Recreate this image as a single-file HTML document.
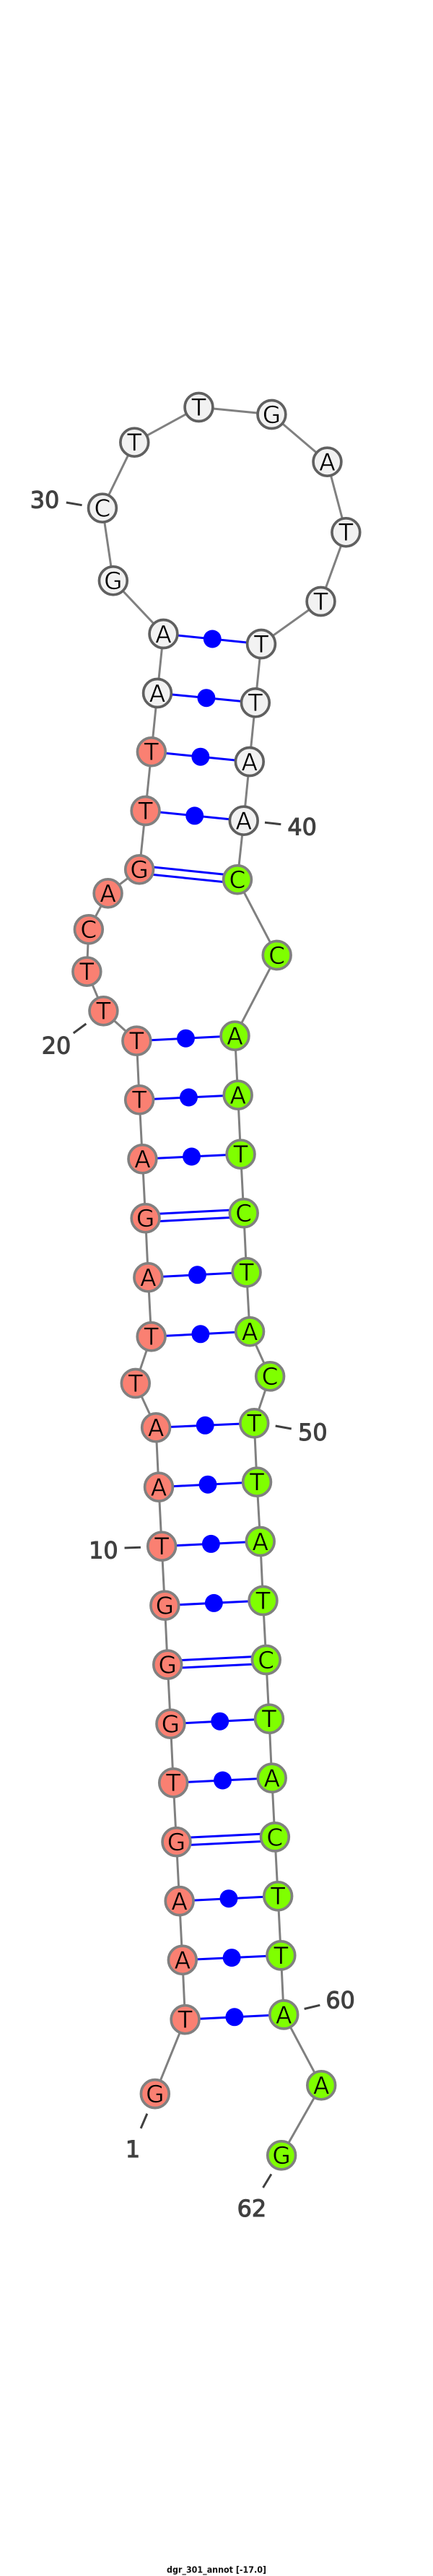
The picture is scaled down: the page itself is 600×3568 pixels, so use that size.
<!DOCTYPE html>
<html>
<head>
<meta charset="utf-8">
<style>
html,body{margin:0;padding:0;background:#fff;}
svg{display:block;}
.n text{font-family:"DejaVu Sans","Liberation Sans",sans-serif;font-size:33px;text-anchor:middle;fill:#000;stroke-width:.6;}
.n circle{r:19.5px;stroke-width:3.7;}
.r circle{fill:#fa8072;stroke:#808080;}
.r text{stroke:#fa8072;}
.g circle{fill:#7fff00;stroke:#808080;}
.g text{stroke:#7fff00;}
.w circle{fill:#f2f2f2;stroke:#606060;}
.w text{stroke:#f2f2f2;}
.l text{font-family:"DejaVu Sans","Liberation Sans",sans-serif;font-size:32px;fill:#404040;text-anchor:middle;stroke:#404040;stroke-width:1.1;}
.l line{stroke:#404040;stroke-width:3;}
.b line{stroke:#0000ff;stroke-width:3;}
.b circle{fill:#0000ff;}
</style>
</head>
<body>
<svg width="600" height="3568" viewBox="0 0 600 3568" xmlns="http://www.w3.org/2000/svg">
<rect width="600" height="3568" fill="#fff"/>
<g transform="scale(0.9945,1)">
<polyline fill="none" stroke="#808080" stroke-width="3" points="216,2900.1 258,2797.2 254.2,2714.8 250,2633.1 245.8,2551.2 241.5,2469.3 237.7,2387.7 233.5,2305.7 229.6,2223.7 225.4,2141.7 221.2,2059.7 217.3,1977.3 188.8,1916 210.8,1851.3 206.5,1769.3 202.7,1687.3 198.5,1605.3 194.2,1523.3 190.4,1441.7 144.2,1400.3 121,1345.7 123.5,1287.3 150.4,1237.3 194.2,1204.3 202.7,1123 211,1041.3 219.2,960 227.7,878 157.7,804.3 142.7,703.7 187.3,612.7 277,564 378.5,574 456,639.7 482,737.3 447,833 364,892 355.8,973.3 347.7,1055 339.6,1136.7 330.8,1218.3 385.8,1323 327.3,1434.7 331.5,1516.7 335.4,1598.7 339.6,1680.3 343.5,1762.3 348,1844.3 376.2,1906.3 354.2,1971.3 358,2052.7 362.7,2135 366.5,2217 370.8,2299 375,2380.7 378.8,2462.7 383,2544.4 387.3,2626.3 391.5,2708.4 395.4,2790.4 447.7,2888.3 392.3,2985.3"/>
<g class="b">
<line x1="258" y1="2797.2" x2="395.4" y2="2790.4"/><circle cx="326.7" cy="2793.8" r="12.5"/>
<line x1="254.2" y1="2714.8" x2="391.5" y2="2708.4"/><circle cx="322.9" cy="2711.6" r="12.5"/>
<line x1="250" y1="2633.1" x2="387.3" y2="2626.3"/><circle cx="318.7" cy="2629.7" r="12.5"/>
<line x1="245.8" y1="2546" x2="383" y2="2539.2"/><line x1="245.8" y1="2556.4" x2="383" y2="2549.6"/>
<line x1="241.5" y1="2469.3" x2="378.8" y2="2462.7"/><circle cx="310.2" cy="2466" r="12.5"/>
<line x1="237.7" y1="2387.7" x2="375" y2="2380.7"/><circle cx="306.4" cy="2384.2" r="12.5"/>
<line x1="233.5" y1="2300.5" x2="370.8" y2="2293.8"/><line x1="233.5" y1="2310.9" x2="370.8" y2="2304.2"/>
<line x1="229.6" y1="2223.7" x2="366.5" y2="2217"/><circle cx="298" cy="2220.4" r="12.5"/>
<line x1="225.4" y1="2141.7" x2="362.7" y2="2135"/><circle cx="294" cy="2138.4" r="12.5"/>
<line x1="221.2" y1="2059.7" x2="358" y2="2052.7"/><circle cx="289.6" cy="2056.2" r="12.5"/>
<line x1="217.3" y1="1977.3" x2="354.2" y2="1971.3"/><circle cx="285.8" cy="1974.3" r="12.5"/>
<line x1="210.8" y1="1851.3" x2="348" y2="1844.3"/><circle cx="279.4" cy="1847.8" r="12.5"/>
<line x1="206.5" y1="1769.3" x2="343.5" y2="1762.3"/><circle cx="275" cy="1765.8" r="12.5"/>
<line x1="202.7" y1="1682.1" x2="339.6" y2="1675.1"/><line x1="202.7" y1="1692.5" x2="339.6" y2="1685.5"/>
<line x1="198.5" y1="1605.3" x2="335.4" y2="1598.7"/><circle cx="267" cy="1602" r="12.5"/>
<line x1="194.2" y1="1523.3" x2="331.5" y2="1516.7"/><circle cx="262.9" cy="1520" r="12.5"/>
<line x1="190.4" y1="1441.7" x2="327.3" y2="1434.7"/><circle cx="258.9" cy="1438.2" r="12.5"/>
<line x1="194.7" y1="1199.1" x2="331.3" y2="1213.1"/><line x1="193.7" y1="1209.5" x2="330.3" y2="1223.5"/>
<line x1="202.7" y1="1123" x2="339.6" y2="1136.7"/><circle cx="271.2" cy="1129.9" r="12.5"/>
<line x1="211" y1="1041.3" x2="347.7" y2="1055"/><circle cx="279.4" cy="1048.2" r="12.5"/>
<line x1="219.2" y1="960" x2="355.8" y2="973.3"/><circle cx="287.5" cy="966.7" r="12.5"/>
<line x1="227.7" y1="878" x2="364" y2="892"/><circle cx="295.9" cy="885" r="12.5"/>
</g>
<g class="n">
<g class="r">
<circle cx="216" cy="2900.1" r="20"/><text x="216" y="2912">G</text>
<circle cx="258" cy="2797.2" r="20"/><text x="258" y="2809.1">T</text>
<circle cx="254.2" cy="2714.8" r="20"/><text x="254.2" y="2726.7">A</text>
<circle cx="250" cy="2633.1" r="20"/><text x="250" y="2645">A</text>
<circle cx="245.8" cy="2551.2" r="20"/><text x="245.8" y="2563.1">G</text>
<circle cx="241.5" cy="2469.3" r="20"/><text x="241.5" y="2481.2">T</text>
<circle cx="237.7" cy="2387.7" r="20"/><text x="237.7" y="2399.6">G</text>
<circle cx="233.5" cy="2305.7" r="20"/><text x="233.5" y="2317.6">G</text>
<circle cx="229.6" cy="2223.7" r="20"/><text x="229.6" y="2235.6">G</text>
<circle cx="225.4" cy="2141.7" r="20"/><text x="225.4" y="2153.6">T</text>
<circle cx="221.2" cy="2059.7" r="20"/><text x="221.2" y="2071.6">A</text>
<circle cx="217.3" cy="1977.3" r="20"/><text x="217.3" y="1989.2">A</text>
<circle cx="188.8" cy="1916" r="20"/><text x="188.8" y="1927.9">T</text>
<circle cx="210.8" cy="1851.3" r="20"/><text x="210.8" y="1863.2">T</text>
<circle cx="206.5" cy="1769.3" r="20"/><text x="206.5" y="1781.2">A</text>
<circle cx="202.7" cy="1687.3" r="20"/><text x="202.7" y="1699.2">G</text>
<circle cx="198.5" cy="1605.3" r="20"/><text x="198.5" y="1617.2">A</text>
<circle cx="194.2" cy="1523.3" r="20"/><text x="194.2" y="1535.2">T</text>
<circle cx="190.4" cy="1441.7" r="20"/><text x="190.4" y="1453.6">T</text>
<circle cx="144.2" cy="1400.3" r="20"/><text x="144.2" y="1412.2">T</text>
<circle cx="121" cy="1345.7" r="20"/><text x="121" y="1357.6">T</text>
<circle cx="123.5" cy="1287.3" r="20"/><text x="123.5" y="1299.2">C</text>
<circle cx="150.4" cy="1237.3" r="20"/><text x="150.4" y="1249.2">A</text>
<circle cx="194.2" cy="1204.3" r="20"/><text x="194.2" y="1216.2">G</text>
<circle cx="202.7" cy="1123" r="20"/><text x="202.7" y="1134.9">T</text>
<circle cx="211" cy="1041.3" r="20"/><text x="211" y="1053.2">T</text>
</g>
<g class="w">
<circle cx="219.2" cy="960" r="20"/><text x="219.2" y="971.9">A</text>
<circle cx="227.7" cy="878" r="20"/><text x="227.7" y="889.9">A</text>
<circle cx="157.7" cy="804.3" r="20"/><text x="157.7" y="816.2">G</text>
<circle cx="142.7" cy="703.7" r="20"/><text x="142.7" y="715.6">C</text>
<circle cx="187.3" cy="612.7" r="20"/><text x="187.3" y="624.6">T</text>
<circle cx="277" cy="564" r="20"/><text x="277" y="575.9">T</text>
<circle cx="378.5" cy="574" r="20"/><text x="378.5" y="585.9">G</text>
<circle cx="456" cy="639.7" r="20"/><text x="456" y="651.6">A</text>
<circle cx="482" cy="737.3" r="20"/><text x="482" y="749.2">T</text>
<circle cx="447" cy="833" r="20"/><text x="447" y="844.9">T</text>
<circle cx="364" cy="892" r="20"/><text x="364" y="903.9">T</text>
<circle cx="355.8" cy="973.3" r="20"/><text x="355.8" y="985.2">T</text>
<circle cx="347.7" cy="1055" r="20"/><text x="347.7" y="1066.9">A</text>
<circle cx="339.6" cy="1136.7" r="20"/><text x="339.6" y="1148.6">A</text>
</g>
<g class="g">
<circle cx="330.8" cy="1218.3" r="20"/><text x="330.8" y="1230.2">C</text>
<circle cx="385.8" cy="1323" r="20"/><text x="385.8" y="1334.9">C</text>
<circle cx="327.3" cy="1434.7" r="20"/><text x="327.3" y="1446.6">A</text>
<circle cx="331.5" cy="1516.7" r="20"/><text x="331.5" y="1528.6">A</text>
<circle cx="335.4" cy="1598.7" r="20"/><text x="335.4" y="1610.6">T</text>
<circle cx="339.6" cy="1680.3" r="20"/><text x="339.6" y="1692.2">C</text>
<circle cx="343.5" cy="1762.3" r="20"/><text x="343.5" y="1774.2">T</text>
<circle cx="348" cy="1844.3" r="20"/><text x="348" y="1856.2">A</text>
<circle cx="376.2" cy="1906.3" r="20"/><text x="376.2" y="1918.2">C</text>
<circle cx="354.2" cy="1971.3" r="20"/><text x="354.2" y="1983.2">T</text>
<circle cx="358" cy="2052.7" r="20"/><text x="358" y="2064.6">T</text>
<circle cx="362.7" cy="2135" r="20"/><text x="362.7" y="2146.9">A</text>
<circle cx="366.5" cy="2217" r="20"/><text x="366.5" y="2228.9">T</text>
<circle cx="370.8" cy="2299" r="20"/><text x="370.8" y="2310.9">C</text>
<circle cx="375" cy="2380.7" r="20"/><text x="375" y="2392.6">T</text>
<circle cx="378.8" cy="2462.7" r="20"/><text x="378.8" y="2474.6">A</text>
<circle cx="383" cy="2544.4" r="20"/><text x="383" y="2556.3">C</text>
<circle cx="387.3" cy="2626.3" r="20"/><text x="387.3" y="2638.2">T</text>
<circle cx="391.5" cy="2708.4" r="20"/><text x="391.5" y="2720.3">T</text>
<circle cx="395.4" cy="2790.4" r="20"/><text x="395.4" y="2802.3">A</text>
<circle cx="447.7" cy="2888.3" r="20"/><text x="447.7" y="2900.2">A</text>
<circle cx="392.3" cy="2985.3" r="20"/><text x="392.3" y="2997.2">G</text>
</g>
</g>
<g class="l">
<line x1="92.3" y1="696" x2="114.2" y2="699.7"/><text x="62.3" y="703.5">30</text>
<line x1="369" y1="1139.3" x2="391.5" y2="1141.7"/><text x="421" y="1156.5">40</text>
<line x1="120" y1="1418" x2="102.3" y2="1431"/><text x="78.5" y="1459.5">20</text>
<line x1="383.8" y1="1975" x2="406" y2="1979"/><text x="435.8" y="1994.8">50</text>
<line x1="173.5" y1="2144" x2="196" y2="2143.3"/><text x="144.2" y="2158.5">10</text>
<line x1="424" y1="2782.5" x2="445.8" y2="2777.3"/><text x="474.2" y="2781.6">60</text>
<line x1="205" y1="2927.6" x2="196.2" y2="2948"/><text x="185" y="2988.2">1</text>
<line x1="378" y1="3011.4" x2="366.5" y2="3030.1"/><text x="350.8" y="3069.8">62</text>
</g>
</g>
<text x="300" y="3563.5" text-anchor="middle" font-family="'DejaVu Sans','Liberation Sans',sans-serif" font-size="12" font-weight="bold" fill="#111" textLength="138" lengthAdjust="spacingAndGlyphs">dgr_301_annot [-17.0]</text>
</svg>
</body>
</html>
